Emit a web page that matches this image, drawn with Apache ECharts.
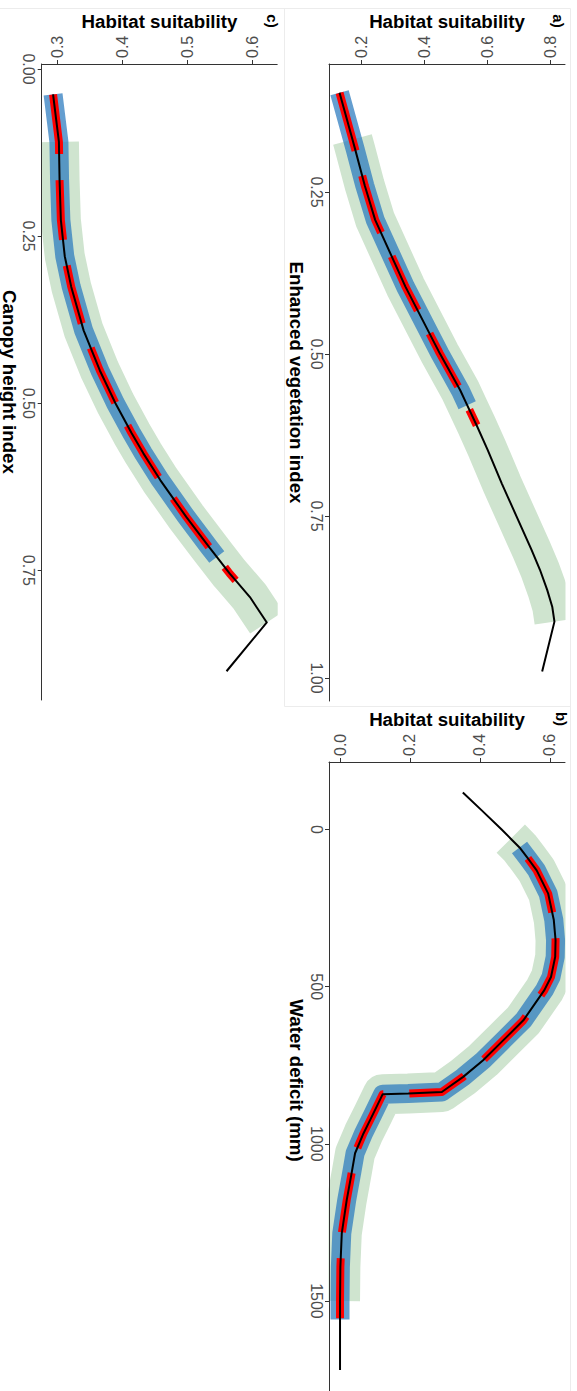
<!DOCTYPE html>
<html>
<head>
<meta charset="utf-8">
<script src="https://cdn.jsdelivr.net/npm/echarts@6/dist/echarts.min.js"></script>
<style>
  html, body { margin: 0; padding: 0; background: #fff; }
  #chart { width: 577px; height: 1391px; }
</style>
</head>
<body>
<div id="chart"></div>
<script>
// a) Enhanced vegetation index -> habitat suitability
const eviValues = [0.097, 0.169, 0.185, 0.240, 0.293, 0.396, 0.499, 0.556, 0.579, 0.610, 0.648, 0.700, 0.751, 0.802, 0.833, 0.864, 0.890, 0.913, 0.990];
const eviSuit   = [0.131, 0.172, 0.181, 0.211, 0.244, 0.340, 0.449, 0.514, 0.536, 0.566, 0.601, 0.646, 0.693, 0.740, 0.767, 0.790, 0.806, 0.813, 0.774];
const eviGreen = [0.169, 0.913];
const eviBlue  = [0.097, 0.579];
const eviRed   = [0.097, 0.610];
const eviTicks = [0.25, 0.50, 0.75, 1.00];
const eviSuitTicks = [0.2, 0.4, 0.6, 0.8];

// b) Water deficit (mm) -> habitat suitability
const wdValues = [-118, -61, 0, 29, 57, 92, 130, 204, 288, 352, 405, 469, 511, 607, 670, 734, 787, 824, 835, 840, 842, 904, 967, 1030, 1094, 1180, 1285, 1392, 1500, 1559, 1570, 1720];
const wdSuit   = [0.351, 0.405, 0.462, 0.488, 0.513, 0.537, 0.562, 0.595, 0.611, 0.616, 0.615, 0.603, 0.584, 0.524, 0.467, 0.409, 0.352, 0.305, 0.291, 0.195, 0.122, 0.095, 0.067, 0.043, 0.033, 0.019, 0.005, 0.001, 0.000, 0.000, 0.000, 0.000];
const wdGreen = [29, 1500];
const wdBlue  = [57, 1559];
const wdRed   = [92, 1570];
const wdTicks = [0, 500, 1000, 1500];
const wdSuitTicks = [0.0, 0.2, 0.4, 0.6];

// c) Canopy height index -> habitat suitability
const chValues = [0.038, 0.109, 0.166, 0.226, 0.280, 0.326, 0.391, 0.451, 0.500, 0.545, 0.575, 0.615, 0.670, 0.715, 0.730, 0.755, 0.765, 0.790, 0.828, 0.901];
const chSuit   = [0.293, 0.302, 0.303, 0.305, 0.311, 0.321, 0.340, 0.365, 0.389, 0.414, 0.432, 0.458, 0.498, 0.533, 0.545, 0.565, 0.574, 0.596, 0.622, 0.560];
const chGreen = [0.109, 0.828];
const chBlue  = [0.038, 0.730];
const chRed   = [0.038, 0.765];
const chTicks = [0.00, 0.25, 0.50, 0.75];
const chSuitTicks = [0.3, 0.4, 0.5, 0.6];

const FONT = 'Liberation Sans, Arial, sans-serif';

// points inside a covariate range, as [suitability, covariate]
function pick(xs, ys, range) {
  const out = [];
  xs.forEach((x, i) => {
    if (!range || (x >= range[0] && x <= range[1])) out.push([ys[i], x]);
  });
  return out;
}

const panels = [
  { // c)
    grid: {left: 41.7, top: 64, width: 235.5, height: 636},
    xMin: 0.2755, xMax: 0.638, xTicks: chSuitTicks, xDec: 1,
    yMin: -0.0075, yMax: 0.944, yTicks: chTicks, yDec: 2,
    name: 'Canopy height index',
    xs: chValues, ys: chSuit, green: chGreen, blue: chBlue, red: chRed
  },
  { // a)
    grid: {left: 329, top: 64, width: 236, height: 637},
    xMin: 0.0975, xMax: 0.8465, xTicks: eviSuitTicks, xDec: 1,
    yMin: 0.0525, yMax: 1.0355, yTicks: eviTicks, yDec: 2,
    name: 'Enhanced vegetation index',
    xs: eviValues, ys: eviSuit, green: eviGreen, blue: eviBlue, red: eviRed
  },
  { // b)
    grid: {left: 329, top: 762, width: 236, height: 637},
    xMin: -0.0315, xMax: 0.643, xTicks: wdSuitTicks, xDec: 1,
    yMin: -215, yMax: 1812, yTicks: wdTicks, yDec: 0,
    name: 'Water deficit (mm)',
    xs: wdValues, ys: wdSuit, green: wdGreen, blue: wdBlue, red: wdRed
  }
];

const grids = [], xAxes = [], yAxes = [], series = [];

panels.forEach((p, i) => {
  grids.push(Object.assign({containLabel: false, outerBoundsMode: 'none'}, p.grid));
  xAxes.push({
    type: 'value', gridIndex: i, position: 'top', min: p.xMin, max: p.xMax, z: 10,
    name: 'Habitat suitability', nameLocation: 'middle', nameGap: 33,
    nameTextStyle: {fontFamily: FONT, fontWeight: 'bold', fontSize: 18.7, color: '#000'},
    axisLine: {show: true, onZero: false, lineStyle: {color: '#333', width: 1}},
    axisTick: {show: true, length: 4, customValues: p.xTicks, lineStyle: {color: '#333'}},
    axisLabel: {
      customValues: p.xTicks, rotate: -90, margin: 6,
      fontFamily: FONT, fontSize: 16, color: '#4d4d4d',
      formatter: v => Number(v).toFixed(p.xDec)
    },
    splitLine: {show: false}
  });
  yAxes.push({
    type: 'value', gridIndex: i, position: 'left', inverse: true, min: p.yMin, max: p.yMax, z: 10,
    name: p.name, nameLocation: 'middle', nameRotate: -90, nameGap: 23,
    nameTextStyle: {fontFamily: FONT, fontWeight: 'bold', fontSize: 18.7, color: '#000'},
    axisLine: {show: true, onZero: false, lineStyle: {color: '#333', width: 1}},
    axisTick: {show: true, length: 4, customValues: p.yTicks, lineStyle: {color: '#333'}},
    axisLabel: {
      customValues: p.yTicks, rotate: -90, margin: 5,
      fontFamily: FONT, fontSize: 16, color: '#4d4d4d',
      formatter: v => Number(v).toFixed(p.yDec)
    },
    splitLine: {show: false}
  });

  const base = {
    type: 'line', xAxisIndex: i, yAxisIndex: i, showSymbol: false, symbol: 'none',
    silent: true, animation: false, z: 2
  };
  series.push(Object.assign({}, base, {
    name: 'green' + i, data: pick(p.xs, p.ys, p.green),
    lineStyle: {color: '#cfe4cf', width: 40, cap: 'butt', join: 'round'}
  }));
  series.push(Object.assign({}, base, {
    name: 'blue' + i, data: pick(p.xs, p.ys, p.blue),
    lineStyle: {color: 'rgba(40,120,190,0.72)', width: 19, cap: 'butt', join: 'round'}
  }));
  series.push(Object.assign({}, base, {
    name: 'red' + i, data: pick(p.xs, p.ys, p.red),
    lineStyle: {color: '#ff0000', width: 8, type: [60, 26], cap: 'butt', join: 'round'}
  }));
  series.push(Object.assign({}, base, {
    name: 'black' + i, data: pick(p.xs, p.ys, null),
    lineStyle: {color: '#000', width: 2, join: 'round'}
  }));
});

const tagStyle = {fontFamily: FONT, fontWeight: 'bold', fontSize: 15, fill: '#000', textAlign: 'center', textVerticalAlign: 'middle'};
const cover = (x, y, w, h) => ({type: 'rect', z: 5, silent: true, shape: {x, y, width: w, height: h}, style: {fill: '#fff'}});
const edge = (x1, y1, x2, y2) => ({type: 'line', z: 12, silent: true, shape: {x1, y1, x2, y2}, style: {stroke: '#ececec', lineWidth: 1}});

const chart = echarts.init(document.getElementById('chart'), null, {renderer: 'svg'});
chart.setOption({
  backgroundColor: '#fff',
  animation: false,
  grid: grids,
  xAxis: xAxes,
  yAxis: yAxes,
  series: series,
  graphic: [
    // hide the parts of the wide bands that run past the panels
    cover(0, 64, 41.2, 637),
    cover(277.7, 64, 50.8, 638),
    cover(565.5, 64, 12, 638),
    cover(285, 762, 43.5, 629),
    cover(565.5, 762, 12, 629),
    // faint panel borders
    edge(0, 8.5, 570.5, 8.5),
    edge(284.5, 8.5, 284.5, 706.5),
    edge(284.5, 706.5, 570.5, 706.5),
    edge(570.5, 8.5, 570.5, 1391),
    // panel tags
    {type: 'text', z: 12, x: 558, y: 21, rotation: -Math.PI / 2, style: Object.assign({text: 'a)'}, tagStyle)},
    {type: 'text', z: 12, x: 561, y: 719, rotation: -Math.PI / 2, style: Object.assign({text: 'b)'}, tagStyle)},
    {type: 'text', z: 12, x: 272, y: 21, rotation: -Math.PI / 2, style: Object.assign({text: 'c)'}, tagStyle)}
  ]
});
</script>
</body>
</html>
